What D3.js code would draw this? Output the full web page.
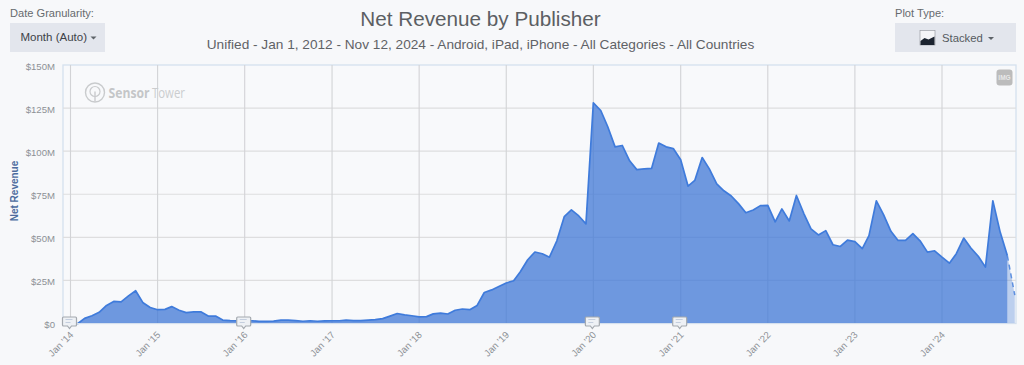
<!DOCTYPE html>
<html><head><meta charset="utf-8">
<script src="https://cdn.jsdelivr.net/npm/d3@7"></script>
<style>html,body{margin:0;padding:0;background:#f7f8fa;overflow:hidden}svg{display:block;font-family:"Liberation Sans",Arial,sans-serif}</style>
</head><body><svg id="c" width="1024" height="365"></svg>
<script>
const startYear = 2014;
const revenue = [
0,0,3,4.5,6.5,10.5,12.8,12.5,16,19,12,9.3,
8,8.2,9.8,7.7,6.3,6.7,6.8,4.3,4.3,2,1.7,1.6,
1.7,1.6,1.2,1.2,1.4,2,2,1.7,1.3,1.6,1.3,1.5,
1.6,1.6,2,1.7,1.7,2,2.3,2.8,4.3,5.8,5,4.5,
3.8,4,5.6,6,5.5,7.7,8.4,8,10.5,18,19.5,21.5,
23.5,24.8,30,37,41.5,40.5,38.5,48,62,65.9,62.4,57.8,
128,123.6,114.3,102.5,103.3,94.4,89.3,89.7,90,104.7,102.5,101.5,
95,79.7,83,96.3,89.7,81,77,74,69.4,64.3,65.9,68.4,
68.5,59,66.5,59.5,74.3,63.8,54.9,51.4,53.9,45.7,44.7,48.4,
47.5,43.4,51,71.2,63.2,53.5,48.2,48.2,52.1,48,41.4,42.2,
38.5,35,40.5,49.6,43.8,39,32.7,71.2,52.9,39.3,16.5];
const yTicks = [0,25,50,75,100,125,150];
const yLabels = ["$0","$25M","$50M","$75M","$100M","$125M","$150M"];
const tickYears = [2014,2015,2016,2017,2018,2019,2020,2021,2022,2023,2024];
const flagYears = [2014,2016,2020,2021];
const provisionalPoints = 2;

const svg = d3.select("#c");
const pLeft=63,pRight=1016,pTop=65,pBase=323.5;
const x = d3.scaleTime().domain([new Date(2014,0,1),new Date(2024,0,1)]).range([70.5,942]);
const y = d3.scaleLinear().domain([0,150]).range([pBase,pTop]);
const data = revenue.map((v,i)=>({d:new Date(startYear,i,1),v}));

// plot frame
svg.append("rect").attr("x",pLeft).attr("y",pTop).attr("width",pRight-pLeft).attr("height",pBase-pTop)
  .attr("fill","#f8f9fb").attr("stroke","#d5e0ee").attr("stroke-width",1.3);

// horizontal grid & y axis
const yAxis = d3.axisLeft(y).tickValues(yTicks).tickFormat((d,i)=>yLabels[i]).tickSize(0).tickPadding(8);
const gy = svg.append("g").attr("transform",`translate(${pLeft},1)`).call(yAxis);
gy.select(".domain").remove();
gy.selectAll("text").attr("fill","#8d9196").attr("font-size",9.6).attr("font-family","Liberation Sans");
svg.append("g").selectAll("line").data(yTicks.filter(t=>t>0&&t<150)).join("line")
  .attr("x1",pLeft).attr("x2",pRight).attr("y1",d=>y(d)).attr("y2",d=>y(d))
  .attr("stroke","#dededf").attr("stroke-width",1.2);

// vertical grid
const tickDates = tickYears.map(t=>new Date(t,0,1));
svg.append("g").selectAll("line").data(tickDates).join("line")
  .attr("x1",d=>x(d)).attr("x2",d=>x(d)).attr("y1",pTop).attr("y2",pBase)
  .attr("stroke","#d2d3d6").attr("stroke-width",1.1);

// watermark
const wm = svg.append("g").attr("transform","translate(95,92.5)");
wm.append("circle").attr("r",9.5).attr("fill","none").attr("stroke","#c9cbcd").attr("stroke-width",1.4);
wm.append("circle").attr("r",5).attr("cy",-1).attr("fill","none").attr("stroke","#c9cbcd").attr("stroke-width",1.2);
wm.append("line").attr("x1",0).attr("x2",0).attr("y1",-1).attr("y2",9).attr("stroke","#c9cbcd").attr("stroke-width",1.4);
svg.append("text").attr("x",108.5).attr("y",97.5).attr("font-size",14).attr("font-weight","bold").attr("fill","#c4c6c8").attr("font-family","Open Sans").attr("textLength",41).attr("lengthAdjust","spacingAndGlyphs").text("Sensor");
svg.append("text").attr("x",152).attr("y",97.5).attr("font-size",14).attr("fill","#cbcdcf").attr("font-family","Open Sans").attr("textLength",33).attr("lengthAdjust","spacingAndGlyphs").text("Tower");

// area
const area = d3.area().x(d=>x(d.d)).y0(y(0)).y1(d=>y(d.v));
const line = d3.line().x(d=>x(d.d)).y(d=>y(d.v));
const split = data.length-provisionalPoints;
const solid = data.slice(0,split+1), prov = data.slice(split);
svg.append("path").datum(prov).attr("d",area).attr("fill","#4279d6").attr("fill-opacity",0.33);
svg.append("path").datum(solid).attr("d",area).attr("fill","#4279d6").attr("fill-opacity",0.76);
svg.append("path").datum(solid).attr("d",line).attr("fill","none").attr("stroke","#3f7bdb").attr("stroke-width",1.7).attr("stroke-linejoin","round");
svg.append("path").datum(prov).attr("d",line).attr("fill","none").attr("stroke","#3f7bdb").attr("stroke-width",1.5).attr("stroke-opacity",0.8).attr("stroke-dasharray","5 4");
svg.append("line").attr("x1",pLeft).attr("x2",pRight).attr("y1",pBase).attr("y2",pBase).attr("stroke","#d5e0ee").attr("stroke-width",1.2);

// x axis
const xAxis = d3.axisBottom(x).tickValues(tickDates).tickFormat(d=>"Jan '"+String(d.getFullYear()).slice(2)).tickSize(0);
const gx = svg.append("g").attr("transform",`translate(0,${pBase})`).call(xAxis);
gx.select(".domain").remove();
gx.selectAll("text").attr("fill","#8d9196").attr("font-size",9.6).attr("font-family","Liberation Sans")
  .attr("text-anchor","end").attr("dy",0).attr("y",0)
  .attr("transform","translate(3,12) rotate(-45)");

// flags
const flags = svg.append("g").selectAll("g").data(flagYears.map(t=>new Date(t,0,1))).join("g")
  .attr("transform",d=>`translate(${x(d)-1},${pBase-2})`);
flags.append("path").attr("d","M-6,-4.5 h12 a1,1 0 0 1 1,1 v7 a1,1 0 0 1 -1,1 h-4 l-2,2.5 l-2,-2.5 h-4 a1,1 0 0 1 -1,-1 v-7 a1,1 0 0 1 1,-1 z")
  .attr("fill","#eef1f5").attr("stroke","#a4a9af").attr("stroke-width",1.2);
flags.append("line").attr("x1",-4).attr("x2",3).attr("y1",-2).attr("y2",-2).attr("stroke","#c4cede");
flags.append("line").attr("x1",-4).attr("x2",1).attr("y1",1).attr("y2",1).attr("stroke","#c4cede");

// y title
svg.append("text").attr("transform","translate(18,191) rotate(-90)").attr("text-anchor","middle")
  .attr("font-size",10).attr("font-weight","bold").attr("fill","#4d6c9e").text("Net Revenue");

// titles
svg.append("text").attr("x",480.5).attr("y",26).attr("text-anchor","middle").attr("font-size",20.7).attr("fill","#5c5f63").attr("font-family","Liberation Sans").text("Net Revenue by Publisher");
svg.append("text").attr("x",480.5).attr("y",49).attr("text-anchor","middle").attr("font-size",13.65).attr("fill","#5f6266").text("Unified - Jan 1, 2012 - Nov 12, 2024 - Android, iPad, iPhone - All Categories - All Countries");

// controls
svg.append("text").attr("x",10).attr("y",17).attr("font-size",11.1).attr("fill","#666a6e").text("Date Granularity:");
svg.append("rect").attr("x",10).attr("y",23).attr("width",95).attr("height",29).attr("fill","#e3e6ed");
svg.append("text").attr("x",20.5).attr("y",41).attr("font-size",11.5).attr("fill","#3d4248").text("Month (Auto)");
svg.append("path").attr("d","M90.5,36.5 h6 l-3,3 z").attr("fill","#5d6268");
svg.append("text").attr("x",895).attr("y",17).attr("font-size",11.1).attr("fill","#666a6e").text("Plot Type:");
svg.append("rect").attr("x",895).attr("y",23).attr("width",121).attr("height",29).attr("fill","#e3e6ed");
svg.append("rect").attr("x",920).attr("y",30.5).attr("width",15).attr("height",14.5).attr("fill","#f4f5f7").attr("stroke","#8e9298").attr("stroke-width",.6);
svg.append("path").attr("d","M920.5,41 l4,-3 l4,1.5 l6,-3 v8.5 h-14 z").attr("fill","#1c2430");
svg.append("text").attr("x",942).attr("y",42).attr("font-size",11.3).attr("fill","#555a60").text("Stacked");
svg.append("path").attr("d","M988,37 h6 l-3,3 z").attr("fill","#5d6268");
svg.append("rect").attr("x",996.5).attr("y",69.5).attr("width",16).attr("height",16).attr("rx",3).attr("fill","#bcbcbc");
svg.append("text").attr("x",1004.5).attr("y",80).attr("text-anchor","middle").attr("font-size",6.5).attr("font-weight","bold").attr("fill","#e8e8e8").text("IMG");
</script></body></html>
